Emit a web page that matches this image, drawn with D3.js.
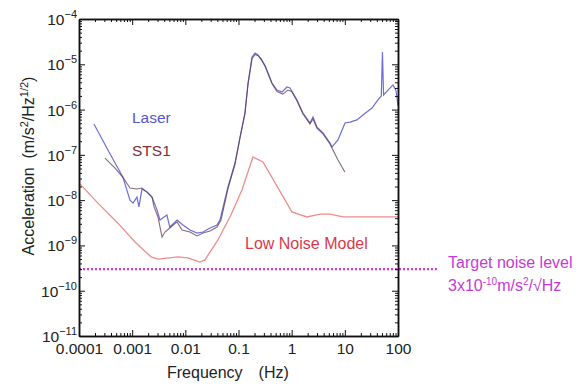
<!DOCTYPE html>
<html>
<head>
<meta charset="utf-8">
<script src="https://cdn.jsdelivr.net/npm/d3@7"></script>
<style>
	body { margin: 0; background: #fff; }
	text { font-family: "Liberation Sans", Arial, sans-serif; }
</style>
</head>
<body>
<figure id="noise" style="margin:0"></figure>
<script>

// ---- data (frequency in Hz, acceleration in m/s^2/Hz^1/2)
var laserFreq = [1.91e-4, 3.5e-4, 6.7e-4, 9.1e-4, 1.04e-3, 1.23e-3, 1.34e-3, 1.53e-3, 1.9e-3, 2.36e-3,
	2.93e-3, 3.33e-3, 4.5e-3, 5.1e-3, 7.0e-3, 9.0e-3, 0.01225, 0.0166, 0.0215, 0.0291,
	0.0394, 0.045, 0.0634, 0.0859, 0.107, 0.132, 0.151, 0.180, 0.204, 0.233,
	0.315, 0.427, 0.53, 0.658, 0.817, 0.93, 1.26, 1.63, 2.21, 2.52,
	2.99, 3.88, 5.26, 5.73, 7.43, 10.07, 12.5, 16.9, 21.9, 32.4,
	42, 48.5, 51, 53.5, 64.9, 80.5, 92, 100];
var laserAcc = [4.8e-7, 1.28e-7, 3.2e-8, 1.0e-8, 8.6e-9, 1.17e-8, 7.1e-9, 1.76e-8, 1.51e-8, 1.17e-8,
	6.1e-9, 3.65e-9, 4.7e-9, 2.55e-9, 3.65e-9, 2.83e-9, 2.19e-9, 1.88e-9, 1.98e-9, 2.43e-9,
	2.83e-9, 3.7e-9, 1.95e-8, 6.6e-8, 2.48e-7, 8.4e-7, 3.86e-6, 1.45e-5, 1.77e-5, 1.6e-5,
	9.5e-6, 3.86e-6, 2.7e-6, 2.44e-6, 3.15e-6, 3.0e-6, 1.63e-6, 8.4e-7, 5.06e-7, 6.9e-7,
	4.1e-7, 3.04e-7, 1.83e-7, 1.49e-7, 2.13e-7, 5.06e-7, 5.3e-7, 5.9e-7, 7.6e-7, 1.08e-6,
	1.63e-6, 2.0e-6, 1.87e-5, 2.1e-6, 2.7e-6, 3.5e-6, 2.6e-6, 1.2e-6];

var sts1Freq = [3.08e-4, 4.75e-4, 6.7e-4, 9.1e-4, 1.23e-3, 1.53e-3, 1.9e-3, 2.36e-3, 2.58e-3, 3.06e-3,
	3.64e-3, 4.14e-3, 5.1e-3, 7.0e-3, 8.65e-3, 0.01225, 0.0166, 0.0215, 0.0291, 0.0394,
	0.0469, 0.0634, 0.0859, 0.107, 0.132, 0.151, 0.180, 0.207, 0.234, 0.27,
	0.315, 0.427, 0.53, 0.68, 0.85, 1.0, 1.26, 1.63, 2.21, 2.52,
	2.99, 3.88, 5.26, 5.98, 7.43, 10];
var sts1Acc = [8.5e-8, 5.1e-8, 3.2e-8, 1.85e-8, 1.76e-8, 1.85e-8, 1.51e-8, 1.17e-8, 7.1e-9, 4.25e-9,
	1.54e-9, 1.98e-9, 2.43e-9, 3.3e-9, 2.19e-9, 1.98e-9, 1.62e-9, 1.88e-9, 2.08e-9, 2.55e-9,
	3.65e-9, 1.8e-8, 6.2e-8, 2.4e-7, 8.0e-7, 3.6e-6, 1.35e-5, 1.65e-5, 1.55e-5, 1.3e-5,
	9.0e-6, 3.7e-6, 2.5e-6, 2.2e-6, 2.7e-6, 2.5e-6, 1.55e-6, 8.0e-7, 4.8e-7, 6.2e-7,
	3.9e-7, 2.9e-7, 1.74e-7, 1.28e-7, 7.7e-8, 4.2e-8];

var lnmFreq = [1e-4, 2.27e-4, 5.4e-4, 1.13e-3, 2.26e-3, 3.06e-3, 7.3e-3, 0.0112, 0.0189, 0.0234,
	0.041, 0.072, 0.116, 0.187, 0.289, 1.01, 1.94, 3.4, 5.3, 9.2, 100];
var lnmAcc = [2.4e-8, 8.6e-9, 3.1e-9, 1.19e-9, 5.6e-10, 5.0e-10, 5.6e-10, 5.3e-10, 4.3e-10, 4.8e-10,
	1.32e-9, 4.7e-9, 1.68e-8, 9.0e-8, 7.0e-8, 5.5e-9, 4.25e-9, 4.9e-9, 4.9e-9, 4.25e-9, 4.25e-9];

var targetLevel = 3e-10;

var xTickValues = [1e-4, 1e-3, 1e-2, 1e-1, 1, 10, 100];
var xTickLabels = ["0.0001", "0.001", "0.01", "0.1", "1", "10", "100"];
var yTickExponents = [-4, -5, -6, -7, -8, -9, -10, -11];

// ---- layout
var dimensions = {
	width: 582,
	height: 390,
	margin: { top: 19, right: 184, bottom: 54, left: 79 }
};
dimensions.boundedWidth = dimensions.width - dimensions.margin.left - dimensions.margin.right;
dimensions.boundedHeight = dimensions.height - dimensions.margin.top - dimensions.margin.bottom;

var svg = d3.select("figure#noise")
	.append("svg")
	.attr("width", dimensions.width)
	.attr("height", dimensions.height);

var chart = svg.append("g")
	.attr("transform", `translate(${dimensions.margin.left},${dimensions.margin.top})`);

var xScale = d3.scaleLog()
	.domain([1e-4, 100])
	.range([0, dimensions.boundedWidth]);

var yScale = d3.scaleLog()
	.domain([1e-11, 1e-4])
	.range([dimensions.boundedHeight, 0]);

var zip = (xs, ys) => xs.map((f, i) => [f, ys[i]]);

var line = d3.line()
	.x(d => xScale(d[0]))
	.y(d => yScale(d[1]));

// ---- target line (dotted, runs out past the frame to its label)
var labelX = dimensions.boundedWidth + 50; // label sits right of the frame
chart.append("line")
	.attr("x1", xScale(1e-4))
	.attr("x2", labelX - 10)
	.attr("y1", yScale(targetLevel))
	.attr("y2", yScale(targetLevel))
	.attr("stroke", "#d63bd6")
	.attr("stroke-width", 2.2)
	.attr("stroke-dasharray", "2,2");

// ---- curves
chart.append("path")
	.datum(zip(lnmFreq, lnmAcc))
	.attr("d", line)
	.attr("fill", "none")
	.attr("stroke", "#f08c8c")
	.attr("stroke-width", 1.3);

chart.append("path")
	.datum(zip(laserFreq, laserAcc))
	.attr("d", line)
	.attr("fill", "none")
	.attr("stroke", "#6e6ed6")
	.attr("stroke-width", 1.2);

chart.append("path")
	.datum(zip(sts1Freq, sts1Acc))
	.attr("d", line)
	.attr("fill", "none")
	.attr("stroke", "#5e3a4c")
	.attr("stroke-width", 1.1)
	.attr("stroke-opacity", 0.75);

// ---- axes, ticks inward on all four sides
var majorY = yTickExponents.map(e => Math.pow(10, e));
var minorY = yScale.ticks().filter(v => majorY.indexOf(v) < 0);
var minorX = xScale.ticks().filter(v => xTickValues.indexOf(v) < 0);

function frame(g) {
	g.selectAll(".domain").attr("stroke", "#111").attr("stroke-width", 1.5);
	g.selectAll(".tick line").attr("stroke", "#111");
	g.selectAll("text").remove();
}

chart.append("g").call(d3.axisLeft(yScale).tickValues(majorY).tickSize(-6).tickSizeOuter(0)).call(frame);
chart.append("g").call(d3.axisLeft(yScale).tickValues(minorY).tickSize(-3).tickSizeOuter(0)).call(frame);
chart.append("g").attr("transform", `translate(${dimensions.boundedWidth},0)`)
	.call(d3.axisRight(yScale).tickValues(majorY).tickSize(-6).tickSizeOuter(0)).call(frame);
chart.append("g").attr("transform", `translate(${dimensions.boundedWidth},0)`)
	.call(d3.axisRight(yScale).tickValues(minorY).tickSize(-3).tickSizeOuter(0)).call(frame);
chart.append("g").call(d3.axisTop(xScale).tickValues(xTickValues).tickSize(-6).tickSizeOuter(0)).call(frame);
chart.append("g").call(d3.axisTop(xScale).tickValues(minorX).tickSize(-3).tickSizeOuter(0)).call(frame);
chart.append("g").attr("transform", `translate(0,${dimensions.boundedHeight})`)
	.call(d3.axisBottom(xScale).tickValues(minorX).tickSize(-3).tickSizeOuter(0)).call(frame);

var xAxis = chart.append("g")
	.attr("transform", `translate(0,${dimensions.boundedHeight})`)
	.call(d3.axisBottom(xScale)
		.tickValues(xTickValues)
		.tickSize(-6)
		.tickSizeOuter(0)
		.tickPadding(7)
		.tickFormat((d, i) => xTickLabels[i]));
xAxis.select(".domain").attr("stroke", "#111").attr("stroke-width", 1.5);
xAxis.selectAll(".tick line").attr("stroke", "#111");
xAxis.selectAll("text")
	.attr("font-size", "15.5px")
	.attr("font-family", "Liberation Sans, Arial, sans-serif")
	.style("fill", "#222");

// y tick labels: 10 with a superscript exponent
var yLabels = chart.selectAll(".ylab")
	.data(yTickExponents)
	.enter()
	.append("text")
	.attr("class", "ylab")
	.attr("x", -2)
	.attr("y", d => yScale(Math.pow(10, d)) + 6)
	.attr("text-anchor", "end")
	.style("fill", "#222")
	.attr("font-size", "15.5px");
yLabels.append("tspan").text("10");
yLabels.append("tspan")
	.attr("dy", -7)
	.attr("font-size", "11px")
	.text(d => "\u2212" + Math.abs(d));

// ---- axis titles
svg.append("text")
	.attr("x", 167)
	.attr("y", 378)
	.attr("font-size", "16px")
	.style("fill", "#222")
	.text("Frequency")
	.append("tspan")
	.attr("dx", 16)
	.text("(Hz)");

var yTitle = svg.append("text")
	.attr("transform", "translate(34,166) rotate(-90)")
	.attr("text-anchor", "middle")
	.attr("font-size", "16px")
	.style("fill", "#222");
yTitle.append("tspan").text("Acceleration\u00a0\u00a0(m/s");
yTitle.append("tspan").attr("dy", -6).attr("font-size", "11px").text("2");
yTitle.append("tspan").attr("dy", 6).text("/Hz");
yTitle.append("tspan").attr("dy", -6).attr("font-size", "11px").text("1/2");
yTitle.append("tspan").attr("dy", 6).text(")");

// ---- in-plot labels
svg.append("text").attr("x", 132).attr("y", 123).attr("font-size", "15.5px")
	.style("fill", "#5555cc").text("Laser");
svg.append("text").attr("x", 132).attr("y", 156).attr("font-size", "15.5px")
	.style("fill", "#7b2f38").text("STS1");
svg.append("text").attr("x", 245).attr("y", 249).attr("font-size", "16px")
	.style("fill", "#d8394c").text("Low Noise Model");

var target = svg.append("text")
	.attr("x", labelX + dimensions.margin.left)
	.attr("y", 268)
	.attr("font-size", "16px")
	.style("fill", "#c63ad6");
target.append("tspan").text("Target noise level");
var target2 = svg.append("text")
	.attr("x", labelX + dimensions.margin.left)
	.attr("y", 291)
	.attr("font-size", "16px")
	.style("fill", "#c63ad6");
target2.append("tspan").text("3x10");
target2.append("tspan").attr("dy", -6).attr("font-size", "10px").text("-10");
target2.append("tspan").attr("dy", 6).text("m/s");
target2.append("tspan").attr("dy", -6).attr("font-size", "10px").text("2");
target2.append("tspan").attr("dy", 6).text("/\u221aHz");

</script>
</body>
</html>
